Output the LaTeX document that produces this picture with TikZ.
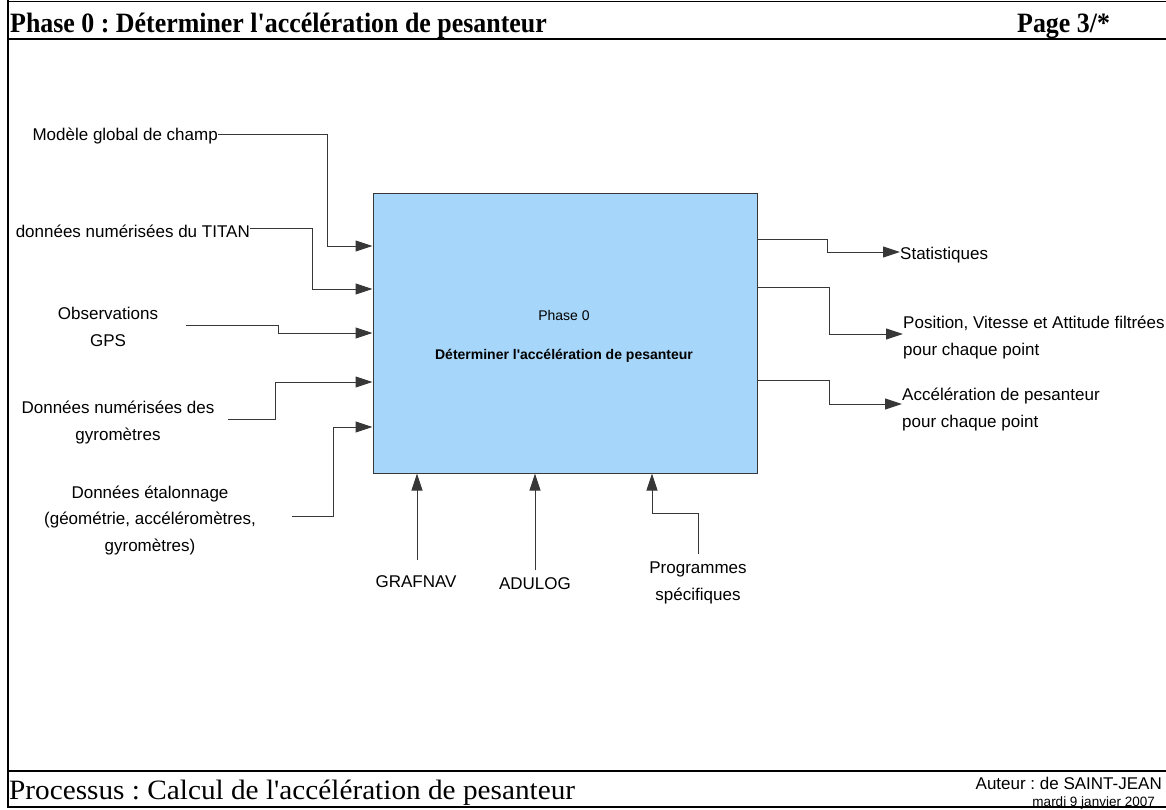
\documentclass[tikz,border=0pt]{standalone}
\usepackage{graphicx}
\usepackage{fontspec}
\setmainfont{Liberation Serif}
\newfontfamily\arial{Liberation Sans}
\usetikzlibrary{arrows.meta}
\definecolor{boxblue}{RGB}{166,214,249}
\definecolor{linegray}{RGB}{55,55,55}
\frenchspacing
\begin{document}
\begin{tikzpicture}[x=1pt,y=-1pt,
  lbl/.style={font=\arial\fontsize{17}{26.5}\selectfont, inner sep=0pt, align=center},
  lblleft/.style={lbl, align=left},
  conn/.style={draw=linegray, line width=1pt},
  arr/.style={conn, -{Triangle[length=17pt,width=11pt]}},
  frame/.style={draw=black}]
\useasboundingbox (0,0) rectangle (1166,809);
% frame
\draw[frame, line width=1pt] (8,1) -- (1166,1);
\draw[frame, line width=2pt] (8,0) -- (8,808);
\draw[frame, line width=2.5pt] (7,39) -- (1166,39);
\draw[frame, line width=2.5pt] (7,771) -- (1166,771);
\draw[frame, line width=1.2pt] (7,807) -- (1166,807);
% header / footer
\node[anchor=base west, inner sep=0, font=\bfseries\fontsize{28}{30}\selectfont] (hdr) at (10,32)
  {\scalebox{0.925}[1]{Phase 0 : Déterminer l\textquotesingle accélération de pesanteur}};
\node[anchor=base west, inner sep=0, font=\bfseries\fontsize{28}{30}\selectfont] (page) at (1017,32)
  {\scalebox{0.925}[1]{Page 3/*}};
\node[anchor=base west, inner sep=0, font=\fontsize{28}{30}\selectfont] (proc) at (9,799)
  {\scalebox{1.045}[1]{Processus : Calcul de l\textquotesingle accélération de pesanteur}};
\node[anchor=base east, inner sep=0, font=\arial\fontsize{17}{20}\selectfont] (aut) at (1162,789) {Auteur : de SAINT-JEAN};
\node[anchor=base east, inner sep=0, font=\arial\fontsize{13.5}{16}\selectfont] (date) at (1155,806) {mardi 9 janvier 2007};
% main box
\node[draw=linegray, fill=boxblue, line width=1pt, minimum width=384pt, minimum height=280pt, inner sep=0] (box) at (565,333) {};
\node[font=\arial\fontsize{14}{16}\selectfont, inner sep=0] (bt1) at (564,315) {Phase 0};
\node[font=\arial\bfseries\fontsize{14}{16}\selectfont, inner sep=0] (bt2) at (564,356) {Déterminer l\textquotesingle accélération de pesanteur};
% input labels
\node[lbl, anchor=east] (m1) at (218,136) {Modèle global de champ};
\node[lbl, anchor=east] (t2) at (250,231) {données numérisées du TITAN};
\node[lbl] (obs) at (108,327) {Observations\\GPS};
\node[lbl] (gyro) at (118,422.5) {Données numérisées des\\gyromètres};
\node[lbl] (etal) at (150,520) {Données étalonnage\\(géométrie, accéléromètres,\\gyromètres)};
% output labels
\node[lbl, anchor=west] (stat) at (900,255) {Statistiques};
\node[lblleft, anchor=west] (pos) at (903,337.5) {Position, Vitesse et Attitude filtrées\\pour chaque point};
\node[lblleft, anchor=west] (acc) at (902,409.5) {Accélération de pesanteur\\pour chaque point};
% mechanism labels
\node[lbl] (graf) at (416,582) {GRAFNAV};
\node[lbl] (adu) at (535,584) {ADULOG};
\node[lbl] (prog) at (698,583) {Programmes\\spécifiques};
% input connectors
\draw[arr] (m1.east |- 0,134) -- (327,134) -- (327,246) -- (box.west |- 0,246);
\draw[arr] (t2.east |- 0,228) -- (312,228) -- (312,289) -- (box.west |- 0,289);
\draw[arr] (obs.east) ++(28,-2) -- (278,325) -- (278,333) -- (box.west |- 0,333);
\draw[arr] (gyro.east) ++(13,-3.5) -- (275,419) -- (275,382) -- (box.west |- 0,382);
\draw[arr] (etal.east) ++(36,-4) -- (333,516) -- (333,427) -- (box.west |- 0,427);
% output connectors
\draw[arr] (box.east |- 0,239) -- (827,239) -- (827,252) -- (stat.west |- 0,252);
\draw[arr] (box.east |- 0,287) -- (829,287) -- (829,334) -- (pos.west |- 0,334);
\draw[arr] (box.east |- 0,380) -- (829,380) -- (829,404) -- (acc.west |- 0,404);
% mechanism connectors
\draw[arr] (graf.north) ++(1,-16) -- (box.south -| 417,0);
\draw[arr] (adu.north) ++(0,-7.5) -- (box.south -| 535,0);
\draw[arr] (prog.north) ++(0,-8) -- (698,513) -- (652,513) -- (box.south -| 652,0);
\end{tikzpicture}
\end{document}
